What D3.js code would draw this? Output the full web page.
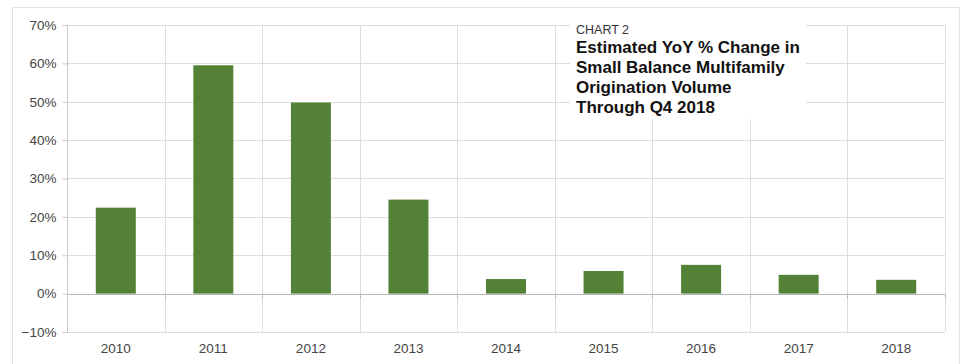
<!DOCTYPE html>
<html>
<head>
<meta charset="utf-8">
<script src="https://cdn.jsdelivr.net/npm/d3@7"></script>
<style>
  html, body { margin: 0; padding: 0; background: #fff; }
  svg { display: block; font-family: "Liberation Sans", Arial, Helvetica, sans-serif; }
</style>
</head>
<body>
<svg id="chart" width="962" height="364"></svg>
<script>
// Year-over-year change in small balance multifamily origination volume
const years = ["2010", "2011", "2012", "2013", "2014", "2015", "2016", "2017", "2018"];
const yoyChange = [0.224, 0.595, 0.498, 0.245, 0.038, 0.059, 0.075, 0.049, 0.036];
const yTicks = [-0.1, 0, 0.1, 0.2, 0.3, 0.4, 0.5, 0.6, 0.7];
const chartLabel = "CHART 2";
const titleLines = ["Estimated YoY % Change in", "Small Balance Multifamily", "Origination Volume", "Through Q4 2018"];

const svg = d3.select("#chart");
const margin = { left: 67, right: 17, top: 25, bottom: 31.5 };
const W = 962, H = 364;

// outer frame
svg.append("rect")
  .attr("x", 12.5).attr("y", 7.5)
  .attr("width", 947).attr("height", 370)
  .attr("fill", "#fff").attr("stroke", "#e3e3e3");

const x = d3.scaleBand()
  .domain(years)
  .range([margin.left, W - margin.right])
  .paddingInner(0.59).paddingOuter(0.295);

const y = d3.scaleLinear()
  .domain([-0.1, 0.7])
  .range([H - margin.bottom - 0.5, margin.top]);

const step = x.step();
const cellEdges = years.map((d, i) => margin.left + i * step).concat([W - margin.right]);

// horizontal gridlines
svg.append("g").selectAll("line")
  .data(yTicks.filter(t => t !== 0))
  .join("line")
  .attr("x1", margin.left).attr("x2", W - margin.right)
  .attr("y1", d => Math.round(y(d)) + 0.5).attr("y2", d => Math.round(y(d)) + 0.5)
  .attr("stroke", "#dedede").attr("stroke-width", 1);

// vertical category separators
svg.append("g").selectAll("line")
  .data(cellEdges.slice(1))
  .join("line")
  .attr("x1", d => Math.round(d) + 0.5).attr("x2", d => Math.round(d) + 0.5)
  .attr("y1", y(0.7)).attr("y2", y(-0.1))
  .attr("stroke", "#dedede").attr("stroke-width", 1);

// bars
svg.append("g").selectAll("rect")
  .data(years.map((d, i) => ({ year: d, v: yoyChange[i] })))
  .join("rect")
  .attr("x", d => x(d.year))
  .attr("width", x.bandwidth())
  .attr("y", d => y(Math.max(0, d.v)))
  .attr("height", d => Math.abs(y(d.v) - y(0)))
  .attr("fill", "#538135");

// zero baseline with tick marks at category edges
const zeroY = Math.round(y(0)) + 0.5;
svg.append("line")
  .attr("x1", margin.left).attr("x2", W - margin.right)
  .attr("y1", zeroY).attr("y2", zeroY)
  .attr("stroke", "#b8b8b8").attr("stroke-width", 1.2);
svg.append("g").selectAll("line")
  .data(cellEdges.slice(1))
  .join("line")
  .attr("x1", d => Math.round(d) + 0.5).attr("x2", d => Math.round(d) + 0.5)
  .attr("y1", zeroY).attr("y2", zeroY + 4)
  .attr("stroke", "#b8b8b8");

// y axis
const yAxis = d3.axisLeft(y)
  .tickValues(yTicks)
  .tickFormat(d3.format(".0%"))
  .tickSize(5)
  .tickPadding(6);
const gy = svg.append("g")
  .attr("transform", `translate(${margin.left + 0.5},0)`)
  .call(yAxis);
gy.select(".domain").attr("stroke", "#c8c8c8").attr("d", `M0,${y(0.7)}V${y(-0.1)}`);
gy.selectAll(".tick line").attr("stroke", "#c8c8c8");
gy.selectAll(".tick text")
  .attr("fill", "#444").attr("font-size", 13.5)
  .attr("font-family", "'Liberation Sans', Arial, sans-serif");

// x axis labels
const xAxis = d3.axisBottom(x).tickSize(0).tickPadding(11);
const gx = svg.append("g")
  .attr("transform", `translate(0,${y(-0.1)})`)
  .call(xAxis);
gx.select(".domain").remove();
gx.selectAll(".tick text")
  .attr("fill", "#444").attr("font-size", 13.5)
  .attr("font-family", "'Liberation Sans', Arial, sans-serif");

// title block on a white panel
svg.append("rect")
  .attr("x", 570).attr("y", 16)
  .attr("width", 236).attr("height", 103)
  .attr("fill", "#fff");
svg.append("text")
  .attr("x", 576).attr("y", 34)
  .attr("font-size", 12.5).attr("fill", "#333")
  .text(chartLabel);
svg.append("g").selectAll("text")
  .data(titleLines)
  .join("text")
  .attr("x", 576)
  .attr("y", (d, i) => 53 + i * 20)
  .attr("font-size", 17).attr("font-weight", "bold").attr("fill", "#111")
  .text(d => d);
</script>
</body>
</html>
